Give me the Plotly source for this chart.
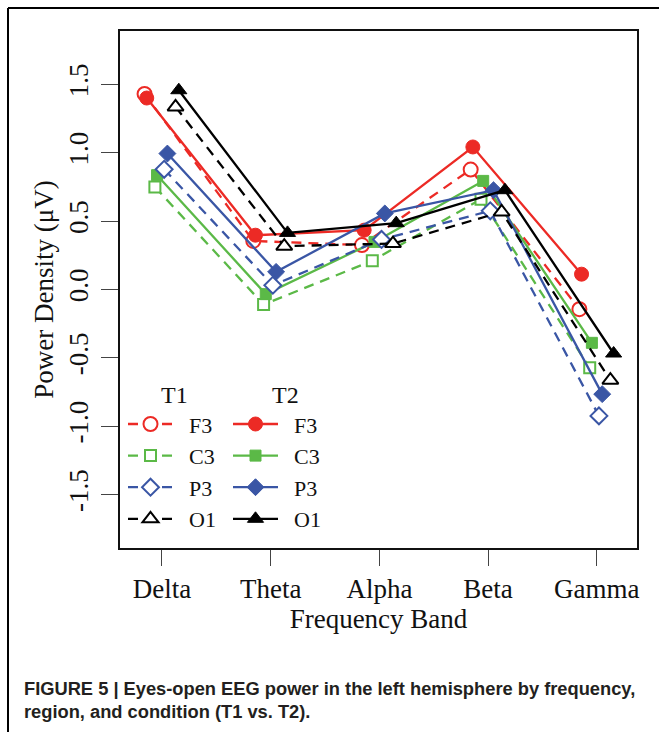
import plotly.graph_objects as go

bands = ["Delta", "Theta", "Alpha", "Beta", "Gamma"]
regions = ["F3", "C3", "P3", "O1"]

# Power density values (µV)
t1_F3 = [1.43, 0.355, 0.325, 0.877, -0.144]
t1_C3 = [0.75, -0.11, 0.21, 0.66, -0.573]
t1_P3 = [0.879, 0.031, 0.366, 0.575, -0.924]
t1_O1 = [1.335, 0.317, 0.336, 0.567, -0.663]

t2_F3 = [1.40, 0.397, 0.434, 1.042, 0.112]
t2_C3 = [0.836, -0.034, 0.348, 0.794, -0.39]
t2_P3 = [0.994, 0.129, 0.556, 0.726, -0.765]
t2_O1 = [1.457, 0.414, 0.485, 0.726, -0.468]

y_ticks = [-1.5, -1.0, -0.5, 0.0, 0.5, 1.0, 1.5]

# styling
colors = {"F3": "#EC2A25", "C3": "#5BB947", "P3": "#3A56A5", "O1": "#000000"}
open_sym = {"F3": "circle", "C3": "square", "P3": "diamond", "O1": "triangle-up"}
msize = {"F3": 14, "C3": 11, "P3": 13, "O1": 14}
# horizontal dodge of each series around the band position
dodge_t1 = {"F3": -0.16, "C3": -0.065, "P3": 0.02, "O1": 0.125}
dodge_t2 = {"F3": -0.14, "C3": -0.045, "P3": 0.05, "O1": 0.155}

t1 = {"F3": t1_F3, "C3": t1_C3, "P3": t1_P3, "O1": t1_O1}
t2 = {"F3": t2_F3, "C3": t2_C3, "P3": t2_P3, "O1": t2_O1}

SERIF = "Liberation Serif, Times New Roman, serif"
NB = "\u00a0"
GAP = NB * 2

fig = go.Figure()
for r in regions:
    c = colors[r]
    xs1 = [i + 1 + dodge_t1[r] for i in range(len(bands))]
    fig.add_trace(go.Scatter(
        x=xs1, y=t1[r], mode="lines+markers", name=GAP + r, legend="legend",
        line=dict(color=c, width=2.3, dash="10px,7px"),
        marker=dict(symbol=open_sym[r], size=msize[r], color="white",
                    line=dict(color=c, width=2)),
    ))
    xs2 = [i + 1 + dodge_t2[r] for i in range(len(bands))]
    fig.add_trace(go.Scatter(
        x=xs2, y=t2[r], mode="lines+markers", name=GAP + r, legend="legend2",
        line=dict(color=c, width=2.3),
        marker=dict(symbol=open_sym[r], size=msize[r], color=c,
                    line=dict(color=c, width=1)),
    ))

W, H = 659, 732
L, R, T, B = 120, 22, 31, 184
pw, ph = W - L - R, H - T - B

def px_x(p):
    return (p - L) / pw

def px_y(p):
    return 1 - (p - T) / ph

legend_common = dict(
    bgcolor="rgba(0,0,0,0)", borderwidth=0,
    font=dict(family=SERIF, size=22, color="#111"),
    xanchor="left", yanchor="top", itemwidth=45,
    tracegroupgap=0, itemclick=False,
)
fig.update_layout(
    width=W, height=H,
    margin=dict(l=L, r=R, t=T, b=B, pad=0),
    paper_bgcolor="white", plot_bgcolor="white",
    showlegend=True,
    legend=dict(**legend_common, x=px_x(123), y=px_y(372),
                title=dict(text=NB * 6 + "T1", side="top",
                           font=dict(family=SERIF, size=24, color="#111"))),
    legend2=dict(**legend_common, x=px_x(228), y=px_y(372),
                 title=dict(text=NB * 7 + "T2", side="top",
                            font=dict(family=SERIF, size=24, color="#111"))),
    xaxis=dict(
        range=[0.614, 5.37], tickmode="array",
        tickvals=[i + 1 for i in range(len(bands))], ticktext=bands,
        showgrid=False, zeroline=False, showline=True, mirror=True,
        linecolor="#111", linewidth=2,
        ticks="outside", ticklen=16, tickwidth=1.3, tickcolor="#444",
        tickfont=dict(family=SERIF, size=27, color="#111"),
        title=dict(text="Frequency Band", font=dict(family=SERIF, size=27, color="#111"),
                   standoff=6),
    ),
    yaxis=dict(
        range=[-1.89, 1.89], tickmode="array", tickvals=y_ticks,
        ticktext=[f"{v:.1f}" for v in y_ticks],
        showgrid=False, zeroline=False, showline=True, mirror=True,
        linecolor="#111", linewidth=2,
        ticks="outside", ticklen=17, tickwidth=1.3, tickcolor="#444",
        tickangle=-90, ticklabelstandoff=2,
        tickfont=dict(family=SERIF, size=27, color="#111"),
        title=dict(text="Power Density (μV)", font=dict(family=SERIF, size=27, color="#111"),
                   standoff=3),
    ),
    font=dict(family=SERIF),
)

# outer figure frame (top and left edges visible)
fig.add_shape(type="line", xref="paper", yref="paper",
              x0=px_x(8), x1=px_x(W + 5), y0=px_y(8), y1=px_y(8),
              line=dict(color="#000", width=2))
fig.add_shape(type="line", xref="paper", yref="paper",
              x0=px_x(8), x1=px_x(8), y0=px_y(8), y1=px_y(H + 5),
              line=dict(color="#000", width=2))

CAP_FONT = dict(family="Liberation Sans, Arial, sans-serif", size=18.3, color="#231F20")
fig.add_annotation(
    xref="paper", yref="paper", x=px_x(22), y=px_y(688),
    xanchor="left", yanchor="middle", align="left", showarrow=False,
    text="<b>FIGURE 5 | Eyes-open EEG power in the left hemisphere by frequency,</b>",
    font=CAP_FONT,
)
fig.add_annotation(
    xref="paper", yref="paper", x=px_x(22), y=px_y(711),
    xanchor="left", yanchor="middle", align="left", showarrow=False,
    text="<b>region, and condition (T1 vs. T2).</b>",
    font=CAP_FONT,
)

fig.write_html("out.html", config={"displayModeBar": False},
               post_script="document.body.style.margin='0';document.body.style.padding='0';")
